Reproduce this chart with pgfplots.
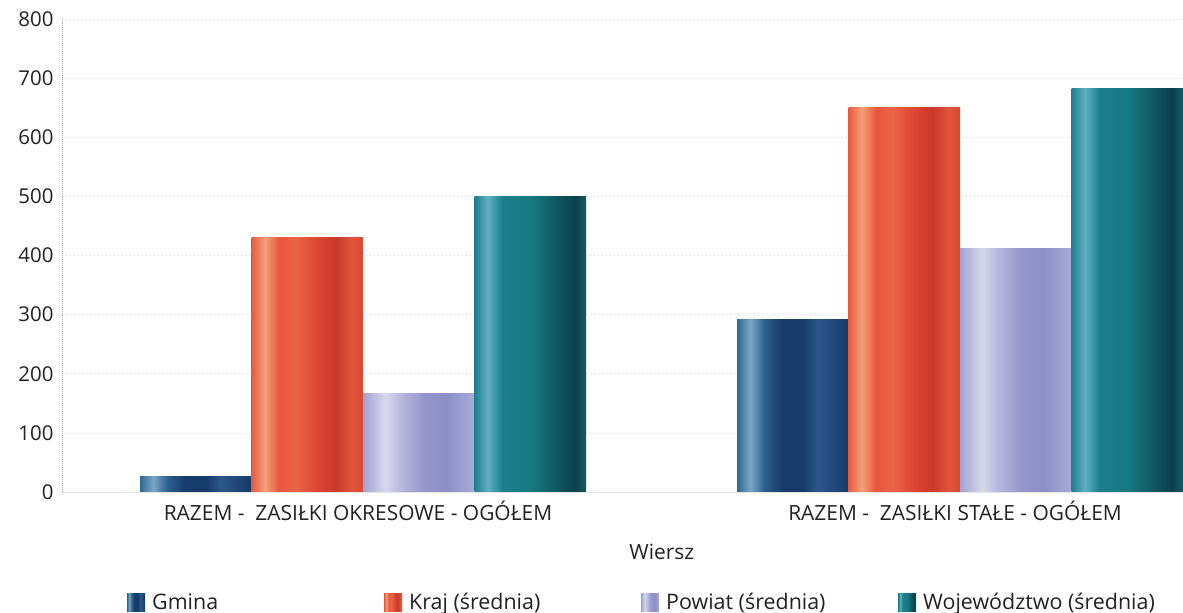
\documentclass[border=0pt]{standalone}
\usepackage{pgfplots}
\pgfplotsset{compat=1.18}
\usepackage{fontspec}
\setmainfont{Open Sans}
\definecolor{txt}{HTML}{222222}
\definecolor{gridc}{HTML}{D4D4D4}
% Gmina
\definecolor{ga}{HTML}{2D6A93}\definecolor{gb}{HTML}{7AA6C6}\definecolor{gc}{HTML}{2A5E8E}
\definecolor{gd}{HTML}{173C6B}\definecolor{ge}{HTML}{2A5789}\definecolor{gf}{HTML}{163A68}
% Kraj
\definecolor{ka}{HTML}{E85A40}\definecolor{kb}{HTML}{F3A07A}\definecolor{kc}{HTML}{E8553C}
\definecolor{kd}{HTML}{EA6447}\definecolor{ke}{HTML}{DC4332}\definecolor{kf}{HTML}{C9392B}
\definecolor{kg}{HTML}{E0553A}\definecolor{kh}{HTML}{D84A33}
% Powiat
\definecolor{pa}{HTML}{A0A3D2}\definecolor{pb}{HTML}{D8D8EC}\definecolor{pc}{HTML}{B4B6DC}
\definecolor{pd}{HTML}{9496CC}\definecolor{pe}{HTML}{8C90C8}\definecolor{pf}{HTML}{A9ABD6}
% Wojewodztwo
\definecolor{wa}{HTML}{1F7F8F}\definecolor{wb}{HTML}{5FB0C0}\definecolor{wc}{HTML}{1D7F8A}
\definecolor{wd}{HTML}{167A82}\definecolor{we}{HTML}{0F5560}\definecolor{wf}{HTML}{0B4049}
\definecolor{wg}{HTML}{155A66}

\pgfdeclarehorizontalshading{shgmina}{100bp}{color(0bp)=(ga); color(25bp)=(ga); color(31bp)=(gb); color(37.5bp)=(gc); color(45bp)=(gd); color(55bp)=(gd); color(61bp)=(ge); color(75bp)=(gf); color(100bp)=(gf)}
\pgfdeclarehorizontalshading{shkraj}{100bp}{color(0bp)=(ka); color(25bp)=(ka); color(31bp)=(kb); color(37.5bp)=(kc); color(45bp)=(kd); color(55bp)=(ke); color(62.5bp)=(kf); color(70bp)=(kg); color(75bp)=(kh); color(100bp)=(kh)}
\pgfdeclarehorizontalshading{shpowiat}{100bp}{color(0bp)=(pa); color(25bp)=(pa); color(35bp)=(pb); color(42.5bp)=(pc); color(52.5bp)=(pd); color(62.5bp)=(pe); color(75bp)=(pf); color(100bp)=(pf)}
\pgfdeclarehorizontalshading{shwoj}{100bp}{color(0bp)=(wa); color(25bp)=(wa); color(31bp)=(wb); color(37.5bp)=(wc); color(50bp)=(wd); color(62.5bp)=(we); color(70bp)=(wf); color(75bp)=(wg); color(100bp)=(wg)}

\pgfplotsset{
  sgmina/.style={draw=none, shade, shading=shgmina, bar shift=-167.25bp},
  skraj/.style={draw=none, shade, shading=shkraj, bar shift=-55.75bp},
  spowiat/.style={draw=none, shade, shading=shpowiat, bar shift=55.75bp},
  swoj/.style={draw=none, shade, shading=shwoj, bar shift=167.25bp},
}

\begin{document}
\begin{tikzpicture}[font=\fontsize{21}{25}\selectfont, text=txt]
\useasboundingbox (0,0) rectangle (1183bp,613bp);
\begin{axis}[
  at={(62bp,121bp)}, anchor=south west,
  scale only axis, width=1121bp, height=473bp,
  xmin=-0.5042, xmax=1.3735, ymin=0, ymax=800,
  ybar, bar width=111.5bp,
  xtick={0,1},
  xticklabels={RAZEM -\ \ ZASIŁKI OKRESOWE - OGÓŁEM, RAZEM -\ \ ZASIŁKI STAŁE - OGÓŁEM},
  ytick={0,100,...,800},
  /pgf/number format/assume math mode=true,
  major tick length=0pt,
  ymajorgrids,
  grid style={gridc, line width=0.6bp, dash pattern=on 1bp off 3bp},
  axis x line*=bottom, axis y line*=left,
  x axis line style={-, draw=black!10, line width=0.8bp},
  y axis line style={-, draw=black!35, line width=0.6bp, dash pattern=on 1bp off 1bp},
  yticklabel style={anchor=east, xshift=-5bp, text=txt, font=\fontsize{20.5}{24}\selectfont},
  xticklabel style={yshift=-5bp, xshift=-5bp, text=txt, font=\fontsize{21}{25}\selectfont},
  xlabel={Wiersz},
  xlabel style={at={(axis description cs:0.535,0)}, anchor=center, yshift=-60bp, text=txt, font=\fontsize{21}{25}\selectfont},
  legend columns=4,
  legend style={at={(axis description cs:0.058,-0.2326)}, anchor=west, draw=none, fill=none,
    inner sep=0pt, font=\fontsize{21.5}{25}\selectfont, nodes={inner xsep=0pt, inner ysep=1pt, text=txt},
    /tikz/every odd column/.append style={column sep=7bp},
    /tikz/every even column/.append style={column sep=0bp}},
  legend image code/.code={\path[#1, draw=none] (0bp,-9bp) rectangle (18bp,9bp);},
  clip=true,
]
% first group (with legend entries)
\addplot[sgmina] coordinates {(0,27)};
\addlegendentry{\makebox[232bp][l]{Gmina}}
\addplot[skraj] coordinates {(0,431)};
\addlegendentry{\makebox[232bp][l]{Kraj (średnia)}}
\addplot[spowiat] coordinates {(0,167)};
\addlegendentry{\makebox[232bp][l]{Powiat (średnia)}}
\addplot[swoj] coordinates {(0,499)};
\addlegendentry{\makebox[232bp][l]{Województwo (średnia)}}
% second group
\addplot[sgmina, forget plot] coordinates {(1,291)};
\addplot[skraj, forget plot] coordinates {(1,650)};
\addplot[spowiat, forget plot] coordinates {(1,412)};
\addplot[swoj, forget plot] coordinates {(1,682)};
\end{axis}
\end{tikzpicture}
\end{document}
